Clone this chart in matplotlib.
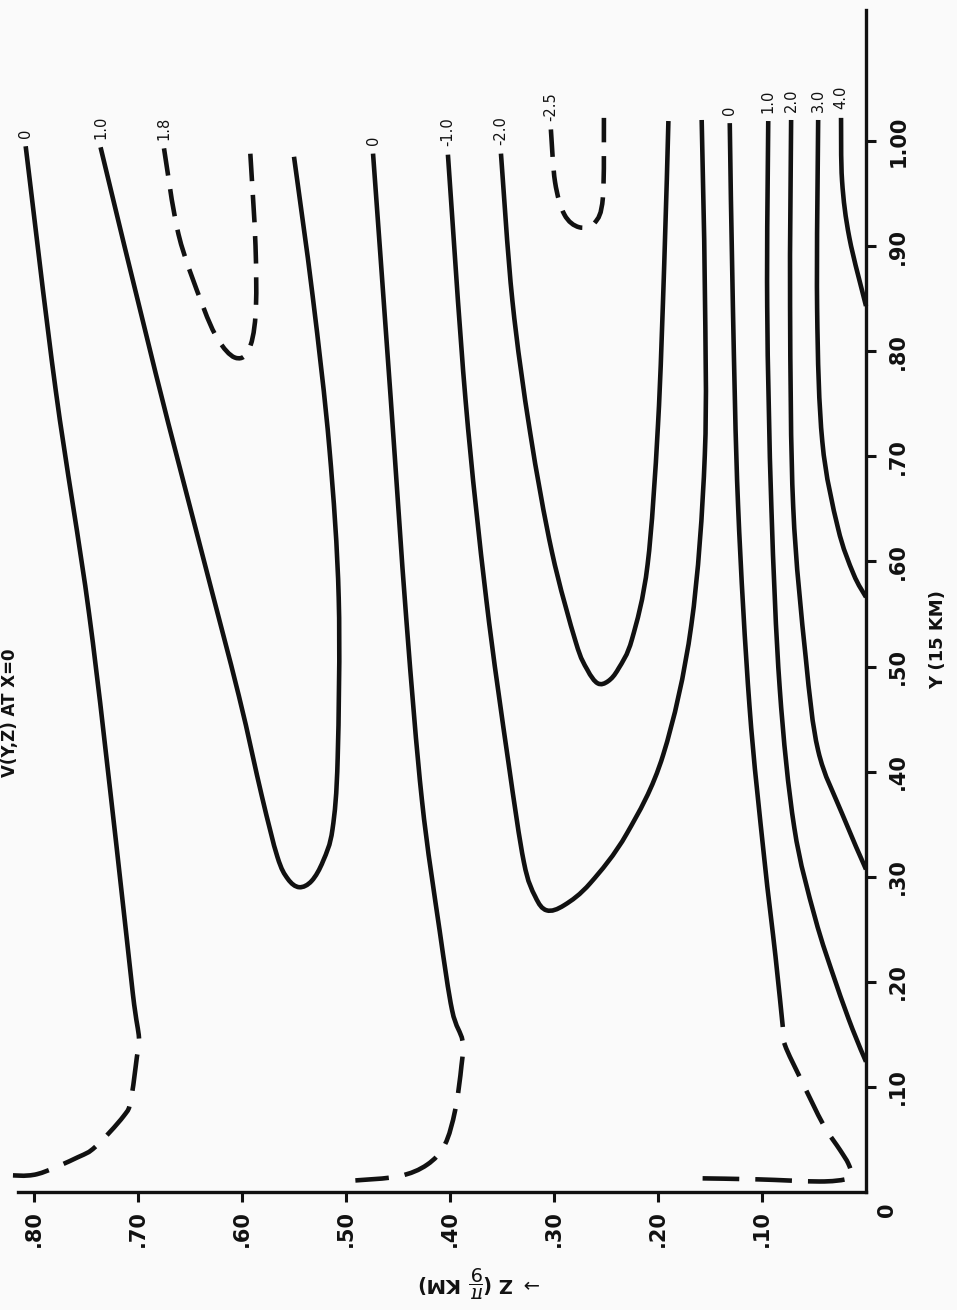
#!/usr/bin/env python3
"""Redraw of the scanned V(Y,Z) contour chart.
The page is turned 90 deg: Z runs right-to-left along the bottom axis and
Y runs upward along the right-hand axis. Each contour is a digitised curve,
drawn as a smooth Bezier path through the read-off points.
"""
import matplotlib
matplotlib.use("Agg")
import matplotlib.pyplot as plt
import numpy as np
from matplotlib.patches import PathPatch
from matplotlib.path import Path

# ---- contour data (Z, Y) ----
# V = 0, outer contour (high Z); dashed part continues from the solid end
A_Z = [0.808, 0.779, 0.747, 0.721, 0.705, 0.699]
A_Y = [0.995, 0.762, 0.550, 0.332, 0.189, 0.146]
A_Z_DASH = [0.699, 0.701, 0.707, 0.714, 0.741, 0.758, 0.797, 0.826]
A_Y_DASH = [0.146, 0.129, 0.087, 0.072, 0.043, 0.033, 0.017, 0.016]
# V = 1.0, U-shaped
B_Z = [0.736, 0.683, 0.638, 0.603, 0.581, 0.566, 0.556, 0.545, 0.533, 0.522,
       0.513, 0.508, 0.507, 0.516, 0.532, 0.550]
B_Y = [0.994, 0.779, 0.606, 0.472, 0.377, 0.319, 0.298, 0.290, 0.296, 0.315,
       0.345, 0.413, 0.565, 0.708, 0.852, 0.985]
# V = 1.8, dashed
C_Z = [0.675, 0.661, 0.638, 0.623, 0.607, 0.594, 0.587, 0.587, 0.592]
C_Y = [0.993, 0.911, 0.844, 0.811, 0.794, 0.800, 0.834, 0.900, 0.988]
# V = 0, middle contour
D_Z = [0.474, 0.457, 0.442, 0.427, 0.410, 0.398, 0.388]
D_Y = [0.988, 0.755, 0.545, 0.373, 0.249, 0.173, 0.144]
D_Z_DASH = [0.388, 0.389, 0.395, 0.405, 0.422, 0.449, 0.491]
D_Y_DASH = [0.144, 0.120, 0.078, 0.045, 0.026, 0.015, 0.011]
# V = -1.0, U-shaped
E_Z = [0.402, 0.385, 0.365, 0.344, 0.329, 0.318, 0.307, 0.290, 0.265, 0.230,
       0.195, 0.168, 0.155, 0.155, 0.158]
E_Y = [0.987, 0.753, 0.563, 0.410, 0.314, 0.281, 0.268, 0.273, 0.294, 0.341,
       0.416, 0.539, 0.701, 0.863, 1.020]
# V = -2.0, U-shaped
F_Z = [0.351, 0.340, 0.323, 0.302, 0.279, 0.268, 0.258, 0.248, 0.238, 0.225,
       0.210, 0.200, 0.194, 0.190]
F_Y = [0.988, 0.848, 0.723, 0.609, 0.523, 0.497, 0.484, 0.486, 0.498, 0.526,
       0.597, 0.730, 0.883, 1.019]
# V = -2.5, dashed
G_Z = [0.303, 0.299, 0.290, 0.276, 0.261, 0.253, 0.252]
G_Y = [1.011, 0.961, 0.930, 0.918, 0.922, 0.946, 1.022]
# V = 0, inner contour (low Z)
H_Z = [0.131, 0.128, 0.123, 0.112, 0.098, 0.087, 0.080]
H_Y = [1.017, 0.843, 0.653, 0.462, 0.319, 0.224, 0.157]
H_Z_DASH = [0.080, 0.078, 0.062, 0.041, 0.025, 0.017, 0.014, 0.020, 0.045,
            0.103, 0.159]
H_Y_DASH = [0.157, 0.140, 0.106, 0.064, 0.040, 0.027, 0.016, 0.012, 0.010,
            0.012, 0.013]
# V = 1.0 .. 4.0 near the Z = 0 boundary
I_Z = [0.094, 0.095, 0.091, 0.083, 0.069, 0.049, 0.029, 0.013, 0.0]
I_Y = [1.019, 0.843, 0.652, 0.480, 0.347, 0.261, 0.199, 0.155, 0.124]
J_Z = [0.072, 0.073, 0.070, 0.058, 0.046, 0.023, 0.0]
J_Y = [1.020, 0.842, 0.652, 0.509, 0.420, 0.360, 0.307]
K_Z = [0.046, 0.047, 0.042, 0.027, 0.012, 0.0]
K_Y = [1.020, 0.841, 0.714, 0.632, 0.588, 0.566]
L_Z = [0.024, 0.023, 0.016, 0.0]
L_Y = [1.022, 0.962, 0.908, 0.843]

# labels written above the top end of each contour
LEVEL_LABELS = ["0", "1.0", "1.8", "0", "-1.0", "-2.0", "-2.5",
                "0", "1.0", "2.0", "3.0", "4.0"]

Z_TICKS = [0.1, 0.2, 0.3, 0.4, 0.5, 0.6, 0.7, 0.8]
Z_TICKLABELS = [".10", ".20", ".30", ".40", ".50", ".60", ".70", ".80"]
Y_TICKS = [0.1, 0.2, 0.3, 0.4, 0.5, 0.6, 0.7, 0.8, 0.9, 1.0]
Y_TICKLABELS = [".10", ".20", ".30", ".40", ".50", ".60", ".70", ".80", ".90", "1.00"]

INK = "#111111"
W, H = 957, 1310          # output size in px
ORIGIN = (866, 1192)      # axes corner (Z=0, Y=0) in px
PX_Z, PX_Y = 1040, 1051   # px per unit of Z and of Y
LW = 3.3
LONG_DASH = (8, 3.5)
SHORT_DASH = (6, 3)


def bezier_segments(z, y):
    """Cubic Bezier pieces through every point (Catmull-Rom tangents)."""
    p = np.column_stack([z, y]).astype(float)
    ext = np.vstack([p[0], p, p[-1]])
    segs = []
    for i in range(len(p) - 1):
        c1 = ext[i + 1] + (ext[i + 2] - ext[i]) / 6
        c2 = ext[i + 2] - (ext[i + 3] - ext[i + 1]) / 6
        segs.append((ext[i + 1], c1, c2, ext[i + 2]))
    return segs


def add_path(ax, segs, ls):
    verts, codes = [segs[0][0]], [Path.MOVETO]
    for s in segs:
        verts += [s[1], s[2], s[3]]
        codes += [Path.CURVE4] * 3
    patch = PathPatch(Path(verts, codes), fill=False, edgecolor=INK, lw=LW,
                      linestyle=ls, capstyle="butt", joinstyle="round")
    patch.set_clip_on(False)
    ax.add_patch(patch)


def draw(ax, z, y, z_dash=None, y_dash=None, dashed=False):
    """Solid curve, optionally running on into a dashed tail (smooth join)."""
    if z_dash is None:
        add_path(ax, bezier_segments(z, y), (0, SHORT_DASH) if dashed else "-")
        return
    segs = bezier_segments(list(z) + list(z_dash[1:]), list(y) + list(y_dash[1:]))
    n = len(z) - 1
    add_path(ax, segs[:n], "-")
    add_path(ax, segs[n:], (LONG_DASH[0], LONG_DASH))   # start with a gap


def main():
    fig = plt.figure(figsize=(W / 100, H / 100), dpi=100, facecolor="#fafafa")
    ax = fig.add_axes([0, (H - ORIGIN[1]) / H, ORIGIN[0] / W, ORIGIN[1] / H])
    ax.set_facecolor("none")
    ax.set_xlim(ORIGIN[0] / PX_Z, 0)   # Z grows to the left
    ax.set_ylim(0, ORIGIN[1] / PX_Y)

    draw(ax, A_Z, A_Y, A_Z_DASH, A_Y_DASH)
    draw(ax, B_Z, B_Y)
    draw(ax, C_Z, C_Y, dashed=True)
    draw(ax, D_Z, D_Y, D_Z_DASH, D_Y_DASH)
    draw(ax, E_Z, E_Y)
    draw(ax, F_Z, F_Y)
    draw(ax, G_Z, G_Y, dashed=True)
    draw(ax, H_Z, H_Y, H_Z_DASH, H_Y_DASH)
    for z, y in [(I_Z, I_Y), (J_Z, J_Y), (K_Z, K_Y), (L_Z, L_Y)]:
        draw(ax, z, y)

    tops = [(A_Z, A_Y), (B_Z, B_Y), (C_Z, C_Y), (D_Z, D_Y), (E_Z, E_Y), (F_Z, F_Y),
            (G_Z, G_Y), (H_Z, H_Y), (I_Z, I_Y), (J_Z, J_Y), (K_Z, K_Y), (L_Z, L_Y)]
    for lab, (z, y) in zip(LEVEL_LABELS, tops):
        ax.text(z[0], y[0] + 0.008, lab, rotation=90, ha="center", va="bottom",
                fontsize=10.5, color=INK, clip_on=False)

    # axes: only the bottom (Z) and right (Y) lines, as on the scan
    for side in ("left", "top"):
        ax.spines[side].set_visible(False)
    ax.spines["bottom"].set_bounds(0, 0.815)
    ax.spines["right"].set_bounds(0, 1.125)
    for side in ("bottom", "right"):
        ax.spines[side].set_linewidth(2.4)
        ax.spines[side].set_color(INK)
    ax.yaxis.tick_right()
    ax.set_xticks(Z_TICKS)
    ax.set_xticklabels(Z_TICKLABELS, rotation=90, fontweight="bold", fontsize=15)
    ax.set_yticks(Y_TICKS)
    ax.set_yticklabels(Y_TICKLABELS, rotation=90, fontweight="bold", fontsize=15,
                       va="center")
    ax.tick_params(axis="both", direction="out", length=7, width=2.2,
                   color=INK, labelcolor=INK)
    ax.tick_params(axis="x", pad=6)
    ax.tick_params(axis="y", pad=9)

    # corner zero, axis names and title (sits against the left edge on the scan)
    fig.text(887 / W, 1 - 1210 / H, "0", rotation=90, ha="center", va="center",
             fontsize=15, fontweight="bold", color=INK)
    fig.text(938 / W, 1 - 640 / H, "Y (15 KM)", rotation=90, ha="center",
             va="center", fontsize=13, fontweight="bold", color=INK)
    fig.text(481 / W, 1 - 1281 / H, r"$\rightarrow$ Z ($\dfrac{\pi}{9}$ KM)",
             rotation=180, ha="center", va="center", fontsize=14,
             fontweight="bold", color=INK)
    fig.text(1 / W, 1 - 777 / H, "V(Y,Z) AT X=0", rotation=90, ha="left",
             va="bottom", fontsize=12, fontweight="bold", color=INK)

    fig.savefig("out.png", dpi=100, facecolor=fig.get_facecolor())


if __name__ == "__main__":
    main()
